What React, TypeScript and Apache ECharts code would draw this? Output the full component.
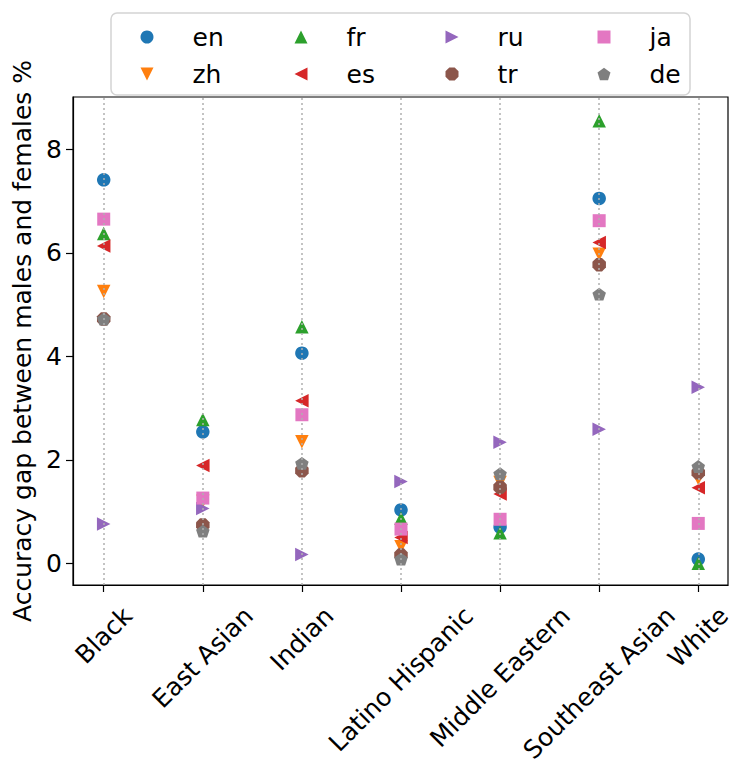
import React, { useEffect, useRef } from "react";
import * as echarts from "echarts";

const categories = ["Black", "East Asian", "Indian", "Latino Hispanic", "Middle Eastern", "Southeast Asian", "White"];
const languages = ["en", "zh", "fr", "es", "ru", "tr", "ja", "de"];

const enValues = [7.41, 2.54, 4.06, 1.03, 0.70, 7.05, 0.08];
const zhValues = [5.25, 1.20, 2.35, 0.32, 1.56, 5.97, 1.64];
const frValues = [6.37, 2.78, 4.57, 0.87, 0.59, 8.55, 0.00];
const esValues = [6.13, 1.89, 3.14, 0.50, 1.34, 6.20, 1.46];
const ruValues = [0.76, 1.06, 0.17, 1.58, 2.34, 2.59, 3.40];
const trValues = [4.72, 0.74, 1.79, 0.16, 1.47, 5.77, 1.75];
const jaValues = [6.65, 1.26, 2.87, 0.66, 0.85, 6.62, 0.77];
const deValues = [4.72, 0.62, 1.93, 0.08, 1.73, 5.20, 1.87];

const yTicks = [0, 2, 4, 6, 8];
const yLabel = "Accuracy gap between males and females %";

const FONT = "DejaVu Sans";
const FS = 25;

const TRI_UP = "path://M1,0L2,2L0,2Z";
const TRI_DOWN = "path://M0,0L2,0L1,2Z";
const TRI_LEFT = "path://M0,1L2,0L2,2Z";
const TRI_RIGHT = "path://M0,0L2,1L0,2Z";
const SQUARE = "path://M0,0L1,0L1,1L0,1Z";
const PENTAGON = "path://M0.951,0L1.902,0.691L1.539,1.809L0.363,1.809L0,0.691Z";
const OCTAGON = "path://M0.541,0L1.307,0L1.848,0.541L1.848,1.307L1.307,1.848L0.541,1.848L0,1.307L0,0.541Z";

const seriesDefs = [
  { name: "en", values: enValues, color: "#1f77b4", symbol: "circle", size: 13.5 },
  { name: "zh", values: zhValues, color: "#ff7f0e", symbol: TRI_DOWN, size: 13.5 },
  { name: "fr", values: frValues, color: "#2ca02c", symbol: TRI_UP, size: 13.5 },
  { name: "es", values: esValues, color: "#d62728", symbol: TRI_LEFT, size: 13.5 },
  { name: "ru", values: ruValues, color: "#9467bd", symbol: TRI_RIGHT, size: 13.5 },
  { name: "tr", values: trValues, color: "#8c564b", symbol: OCTAGON, size: 13.5 },
  { name: "ja", values: jaValues, color: "#e377c2", symbol: SQUARE, size: 13 },
  { name: "de", values: deValues, color: "#7f7f7f", symbol: PENTAGON, size: 13.5 },
];

const legendColumns = [
  ["en", "zh"],
  ["fr", "es"],
  ["ru", "tr"],
  ["ja", "de"],
];
const legendMarkerCenters = [147, 301, 452, 604];

export default function App() {
  const ref = useRef<HTMLDivElement>(null);

  useEffect(() => {
    document.body.style.margin = "0";
    if (!ref.current) return;
    const chart = echarts.init(ref.current, null, { renderer: "svg" });

    // measure label widths to mimic centered rotated labels
    const canvas = document.createElement("canvas");
    const ctx = canvas.getContext("2d")!;
    ctx.font = `${FS}px "${FONT}"`;
    const rich: Record<string, any> = {};
    const axisBottom = 585;
    const labelTop = 603;
    const textH = 24;
    categories.forEach((c, i) => {
      const w = ctx.measureText(c).width;
      const d = labelTop - axisBottom + 0.3536 * (w + textH);
      const P = 1.4142 * d;
      rich["c" + i] = { padding: [P, P, 0, 0], fontSize: FS, fontFamily: FONT, color: "#000" };
    });

    const catIdx = categories.map((_, i) => i);
    const axisLineStyle = { color: "#000", width: 1.2 };

    const series: any[] = seriesDefs.map((s, si) => ({
      type: "scatter",
      name: s.name,
      data: s.values.map((v, i) => [i, v]),
      symbol: s.symbol,
      symbolSize: s.size,
      symbolKeepAspect: true,
      itemStyle: { color: s.color, opacity: 1 },
      z: 2,
      ...(si === 0
        ? {
            markLine: {
              silent: true,
              symbol: ["none", "none"],
              label: { show: false },
              lineStyle: { color: "#b0b0b0", type: [2, 3], width: 1.5 },
              data: catIdx.map((i) => ({ xAxis: i })),
            },
          }
        : {}),
    }));

    const legends = legendColumns.map((col, ci) => ({
      data: col,
      orient: "vertical",
      left: legendMarkerCenters[ci] - 6.5,
      top: 24,
      padding: 0,
      itemWidth: 13,
      itemHeight: 13,
      itemGap: 11,
      selectedMode: false,
      symbolKeepAspect: true,
      textStyle: {
        fontSize: FS,
        fontFamily: FONT,
        color: "#000",
        lineHeight: 26,
        padding: [0, 0, 0, 34],
      },
    }));

    chart.setOption({
      animation: false,
      backgroundColor: "#fff",
      grid: {
        left: 73,
        right: 19,
        top: 97,
        bottom: 191,
        show: true,
        borderColor: "#000",
        borderWidth: 1.2,
      },
      graphic: [
        {
          type: "rect",
          shape: { x: 111, y: 13, width: 579, height: 82, r: 6 },
          style: { fill: "#fff", stroke: "#d4d4d4", lineWidth: 1.5 },
          z: 0,
          silent: true,
        },
      ],
      legend: legends,
      xAxis: {
        type: "value",
        min: -0.31,
        max: 6.3,
        axisLine: { show: true, onZero: false, lineStyle: axisLineStyle },
        axisTick: { show: true, length: 7, customValues: catIdx, lineStyle: axisLineStyle },
        axisLabel: {
          customValues: catIdx,
          rotate: 45,
          align: "center",
          verticalAlign: "middle",
          margin: 0,
          fontSize: FS,
          fontFamily: FONT,
          color: "#000",
          formatter: (v: number) => {
            const i = Math.round(v);
            return `{c${i}|${categories[i]}}`;
          },
          rich,
        },
        splitLine: { show: false },
      },
      yAxis: {
        type: "value",
        min: -0.42,
        max: 9.01,
        name: yLabel,
        nameLocation: "middle",
        nameGap: 37,
        nameTextStyle: { fontSize: FS, fontFamily: FONT, color: "#000" },
        axisLine: { show: true, onZero: false, lineStyle: axisLineStyle },
        axisTick: { show: true, length: 7, customValues: yTicks, lineStyle: axisLineStyle },
        axisLabel: { customValues: yTicks, fontSize: FS, fontFamily: FONT, color: "#000", margin: 11 },
        splitLine: { show: false },
      },
      series,
    });

    return () => chart.dispose();
  }, []);

  return <div ref={ref} style={{ width: 747, height: 776 }} />;
}
